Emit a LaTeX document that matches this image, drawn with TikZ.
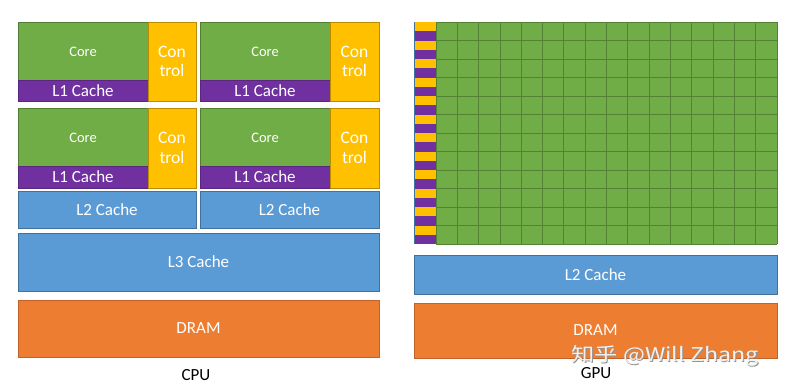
\documentclass[tikz,border=0pt]{standalone}
\usepackage{fontspec}
\setmainfont{Carlito}
\newfontfamily\cjkwm{Noto Sans CJK SC}
\definecolor{cgreen}{HTML}{70AD47}
\definecolor{cgreenB}{HTML}{507E32}
\definecolor{cgrid}{HTML}{548235}
\definecolor{cyellow}{HTML}{FFC000}
\definecolor{cyellowB}{HTML}{BC8C00}
\definecolor{cpurple}{HTML}{7030A0}
\definecolor{cpurpleB}{HTML}{5A2680}
\definecolor{cblue}{HTML}{5B9BD5}
\definecolor{cblueB}{HTML}{41719C}
\definecolor{corange}{HTML}{ED7D31}
\definecolor{corangeB}{HTML}{C0622A}
\begin{document}
\begin{tikzpicture}[x=1pt,y=-1pt,
  blk/.style={draw, line width=0.8pt, inner sep=0pt, outer sep=0pt, text=white, align=center},
  corebox/.style={blk, fill=cgreen, draw=cgreenB, minimum width=130pt, minimum height=58pt, font=\fontsize{14.5}{16}\selectfont},
  l1box/.style={blk, fill=cpurple, draw=cpurpleB, minimum width=130pt, font=\fontsize{17}{18}\selectfont},
  ctlbox/.style={blk, fill=cyellow, draw=cyellowB, font=\fontsize{17.5}{20.5}\selectfont},
  cachebox/.style={blk, fill=cblue, draw=cblueB, font=\fontsize{17}{18}\selectfont},
  dram/.style={blk, fill=corange, draw=corangeB, font=\fontsize{17}{18}\selectfont},
  lbl/.style={inner sep=0pt, font=\fontsize{17}{18}\selectfont, text=black},
  wmark/.style={inner sep=0pt, xscale=1.22, font=\fontsize{19}{21}\cjkwm}]
\useasboundingbox (0,0) rectangle (785,388);
\fill[white] (0,0) rectangle (785,388);
% ---------- CPU ----------
\node[corebox] (core1) at (83,51.5) {Core};
\node[l1box, minimum height=21pt] (l1a) at (83,90.5) {L1 Cache};
\node[ctlbox, minimum width=48pt, minimum height=79pt] (ctl1) at (172,61.5) {\raisebox{-1pt}{Con}\\trol};
\node[corebox] (core2) at (265,51.5) {Core};
\node[l1box, minimum height=21pt] (l1b) at (265,90.5) {L1 Cache};
\node[ctlbox, minimum width=49pt, minimum height=79pt] (ctl2) at (354.5,61.5) {\raisebox{-1pt}{Con}\\trol};
\node[corebox] (core3) at (83,137.5) {Core};
\node[l1box, minimum height=22pt] (l1c) at (83,177) {L1 Cache};
\node[ctlbox, minimum width=48pt, minimum height=80pt] (ctl3) at (172,148) {\raisebox{-1pt}{Con}\\trol};
\node[corebox] (core4) at (265,137.5) {Core};
\node[l1box, minimum height=22pt] (l1d) at (265,177) {L1 Cache};
\node[ctlbox, minimum width=49pt, minimum height=80pt] (ctl4) at (354.5,148) {\raisebox{-1pt}{Con}\\trol};
\node[cachebox, minimum width=178pt, minimum height=37pt] (l2a) at (107,209.5) {L2 Cache};
\node[cachebox, minimum width=179pt, minimum height=37pt] (l2b) at (289.5,209.5) {L2 Cache};
\node[cachebox, minimum width=361pt, minimum height=58pt] (l3) at (198.5,262) {L3 Cache};
\node[dram, minimum width=361pt, minimum height=57pt] (dramc) at (198.5,328.5) {DRAM};
\node[lbl] (cpu) at (196,375.5) {CPU};
% ---------- GPU grid ----------
\fill[cgreen] (436,22) rectangle (777,244);
\foreach \r in {0,...,11}{
  \fill[cyellow] (414,{22+18.5*\r}) rectangle (436,{22+18.5*\r+9.25});
  \fill[cpurple] (414,{22+18.5*\r+9.25}) rectangle (436,{22+18.5*(\r+1)});
}
\foreach \c in {0,...,16}{
  \draw[cgrid, line width=0.8pt] ({436+341/16*\c},22) -- ({436+341/16*\c},244);
}
\foreach \r in {0,...,12}{
  \draw[cgrid, line width=0.8pt] (436,{22+18.5*\r}) -- (777,{22+18.5*\r});
}
\draw[cblueB, line width=0.6pt] (414,22) -- (414,244);
% ---------- GPU caches ----------
\node[cachebox, minimum width=363pt, minimum height=39pt] (l2g) at (595.5,274.5) {L2 Cache};
\node[dram, minimum width=363pt, minimum height=55pt] (dramg) at (595.5,330.5) {\raisebox{-1pt}{DRAM}};
\node[lbl] (gpu) at (596,373) {GPU};
% ---------- watermark ----------
\node[wmark, text=gray!85] (wmshadow) at (666.2,357.2) {知乎 @Will Zhang};
\node[wmark, text=white!90!gray] (wm) at (665,356) {知乎 @Will Zhang};
\end{tikzpicture}
\end{document}
